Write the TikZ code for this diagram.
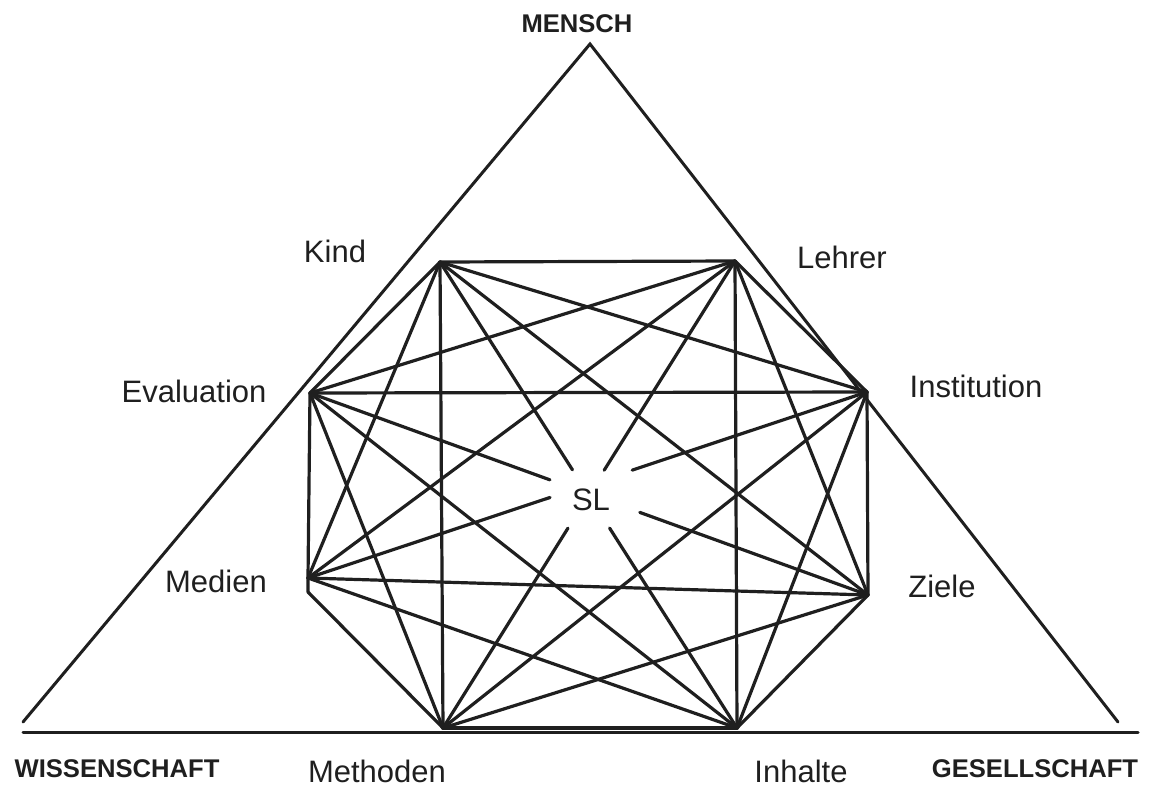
\documentclass[tikz,border=0pt]{standalone}
\usepackage{fontspec}
\setmainfont{Liberation Sans}
\usetikzlibrary{calc}
\begin{document}
\begin{tikzpicture}[x=1pt,y=-1pt,
  edge/.style={line width=3.2pt, line cap=round, line join=round, black!88},
  frame/.style={line width=3pt, line cap=round, black!88},
  lbl/.style={font=\fontsize{31}{37}\selectfont, inner sep=0pt, anchor=base, text=black!88},
  corner/.style={font=\fontsize{25.6}{30}\selectfont\bfseries, inner sep=0pt, anchor=base, text=black!88}]
\useasboundingbox (0,0) rectangle (1149,789);
% triangle and base line
\coordinate (Apex) at (590,44);
\coordinate (BL) at (23,722);
\coordinate (BR) at (1118,722);
\coordinate (HL) at (23,732);
\coordinate (HR) at (1138,732);
\draw[frame] (BL) -- (Apex) -- (BR);
\draw[frame] (HL) -- (HR);
% octagon vertices
\coordinate (Ki) at (440,262);
\coordinate (Le) at (735,261);
\coordinate (Ev) at (310,393);
\coordinate (In) at (867,392);
\coordinate (Me) at (308,578);
\coordinate (MeK) at (308,592);
\coordinate (Zi) at (868,595);
\coordinate (Mt) at (443,728);
\coordinate (Ih) at (737,728);
% edges from Kind
\draw[edge] (Ki) -- (Le);
\draw[edge] (Ki) -- (Ev);
\draw[edge] (Ki) -- (In);
\draw[edge] (Ki) -- (Me);
\draw[edge] (Ki) -- (Zi);
\draw[edge] (Ki) -- (Mt);
% edges from Lehrer
\draw[edge] (Le) -- (Ev);
\draw[edge] (Le) -- (In);
\draw[edge] (Le) -- (Me);
\draw[edge] (Le) -- (Zi);
\draw[edge] (Le) -- (Ih);
% edges from Evaluation
\draw[edge] (Ev) -- (In);
\draw[edge] (Ev) -- (Me);
\draw[edge] (Ev) -- (Mt);
\draw[edge] (Ev) -- (Ih);
% edges from Institution
\draw[edge] (In) -- (Zi);
\draw[edge] (In) -- (Mt);
\draw[edge] (In) -- (Ih);
% edges from Medien
\draw[edge] (Me) -- (MeK) -- (Mt);
\draw[edge] (Me) -- (Zi);
\draw[edge] (Me) -- (Ih);
% edges from Ziele
\draw[edge] (Zi) -- (Mt);
\draw[edge] (Zi) -- (Ih);
% base
\draw[edge, line width=4pt] (Mt) -- (Ih);
% the four diameters, interrupted around SL
\draw[edge] (Ki) -- ($(Ki)!0.446!(Ih)$);
\draw[edge] ($(Ki)!0.571!(Ih)$) -- (Ih);
\draw[edge] (Le) -- ($(Le)!0.448!(Mt)$);
\draw[edge] ($(Le)!0.572!(Mt)$) -- (Mt);
\draw[edge] (Ev) -- ($(Ev)!0.430!(Zi)$);
\draw[edge] ($(Ev)!0.591!(Zi)$) -- (Zi);
\draw[edge] (In) -- ($(In)!0.420!(Me)$);
\draw[edge] ($(In)!0.567!(Me)$) -- (Me);
% labels
\node[corner] (mensch) at (577,33) {MENSCH};
\node[corner] (wiss) at (117,777) {WISSENSCHAFT};
\node[corner] (ges) at (1035,777) {GESELLSCHAFT};
\node[lbl] (kind) at (335,262) {Kind};
\node[lbl] (lehrer) at (842,268) {Lehrer};
\node[lbl] (eval) at (194,402) {Evaluation};
\node[lbl] (inst) at (976,397) {Institution};
\node[lbl] (medien) at (216,592) {Medien};
\node[lbl] (ziele) at (942,597) {Ziele};
\node[lbl] (meth) at (377,782) {Methoden};
\node[lbl] (inh) at (801,782) {Inhalte};
\node[lbl] (sl) at (591,510) {SL};
\end{tikzpicture}
\end{document}
